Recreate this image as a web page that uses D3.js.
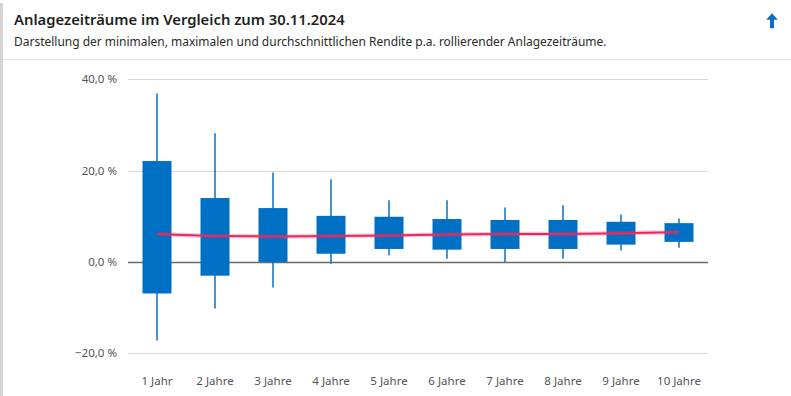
<!DOCTYPE html>
<html><head><meta charset="utf-8">
<script src="https://cdn.jsdelivr.net/npm/d3@7"></script>
<style>
html,body{margin:0;padding:0;background:#fff;}
svg{display:block;font-family:"Noto Sans","Open Sans",sans-serif;}
</style></head>
<body>
<svg id="c" width="791" height="396"></svg>
<script>
const categories = ["1 Jahr","2 Jahre","3 Jahre","4 Jahre","5 Jahre","6 Jahre","7 Jahre","8 Jahre","9 Jahre","10 Jahre"];
const minVals = [-17.2,-10.2,-5.6,-0.4,1.4,0.7,0.0,0.7,2.5,3.1];
const lowVals = [-6.9,-3.0,0.0,1.8,2.85,2.7,2.85,2.85,3.8,4.4];
const highVals = [22.1,14.0,11.8,10.1,9.9,9.4,9.2,9.2,8.8,8.5];
const maxVals = [36.9,28.2,19.6,18.1,13.5,13.5,11.9,12.4,10.4,9.5];
const avgVals = [6.2,5.7,5.6,5.7,5.8,6.0,6.1,6.15,6.3,6.5];
const yTicks = [-20,0,20,40];
const titleText = "Anlagezeiträume im Vergleich zum 30.11.2024";
const subtitleText = "Darstellung der minimalen, maximalen und durchschnittlichen Rendite p.a. rollierender Anlagezeiträume.";

const svg = d3.select("#c");

// card chrome
svg.append("rect").attr("x",0).attr("y",3).attr("width",3).attr("height",393).attr("fill","#d4d4d4");
svg.append("line").attr("x1",3).attr("x2",791).attr("y1",59.5).attr("y2",59.5).attr("stroke","#e2e2e2").attr("stroke-width",1);

function fitText(sel, target){
  const w = sel.node().getComputedTextLength();
  const fs = parseFloat(sel.attr("font-size"));
  sel.attr("font-size", (fs*target/w).toFixed(2));
}
const t = svg.append("text").attr("x",14).attr("y",25).attr("font-size",16).attr("font-weight",600).attr("fill","#1f1f1f").text(titleText);
fitText(t, 331);
const st = svg.append("text").attr("x",14).attr("y",46).attr("font-size",12.5).attr("fill","#2a2a2a").text(subtitleText);
fitText(st, 593);

// arrow icon
const ag = svg.append("g").attr("transform","translate(772,21)").attr("fill","#0a6fc2");
ag.append("path").attr("d","M0,-7.8 L5.8,-1.2 L2,-1.2 L2,7.3 L-2,7.3 L-2,-1.2 L-5.8,-1.2 Z");

// scales
const x = d3.scaleBand().domain(categories).range([128,708]).paddingInner(0.5).paddingOuter(0.25);
const y = d3.scaleLinear().domain([-20,40]).range([353.3,79.3]);

// grid
const grid = svg.append("g");
grid.selectAll("line").data(yTicks).join("line")
  .attr("x1",128).attr("x2",708)
  .attr("y1",d=>Math.round(y(d))+0.5).attr("y2",d=>Math.round(y(d))+0.5)
  .attr("stroke",d=>d===0?"#6b6b6b":"#d9d9d9")
  .attr("stroke-width",d=>d===0?1.5:1);

// y labels
const yAxis = d3.axisLeft(y).tickValues(yTicks).tickSize(0).tickPadding(0)
  .tickFormat(d=>d3.format(".1f")(d).replace(".",",")+" %");
const ya = svg.append("g").attr("transform","translate(117,0)").call(yAxis);
ya.select(".domain").remove();
ya.selectAll("text").attr("font-size",11.5).attr("fill","#555").attr("font-family","'Noto Sans',sans-serif");

// x labels
const xAxis = d3.axisBottom(x).tickSize(0).tickPadding(0);
const xa = svg.append("g").attr("transform","translate(0,376.5)").call(xAxis);
xa.select(".domain").remove();
xa.selectAll("text").attr("font-size",11.5).attr("fill","#555").attr("font-family","'Noto Sans',sans-serif");

// whiskers
const data = categories.map((c,i)=>({c,min:minVals[i],low:lowVals[i],high:highVals[i],max:maxVals[i],avg:avgVals[i]}));
const cx = d=>x(d.c)+x.bandwidth()/2;
svg.append("g").selectAll("line").data(data).join("line")
  .attr("x1",cx).attr("x2",cx)
  .attr("y1",d=>y(d.max)).attr("y2",d=>y(d.min))
  .attr("stroke","#0b70c4").attr("stroke-width",1.5);
svg.append("g").selectAll("rect").data(data).join("rect")
  .attr("x",d=>x(d.c)).attr("width",x.bandwidth())
  .attr("y",d=>y(d.high)).attr("height",d=>y(d.low)-y(d.high))
  .attr("fill","#0070c4");

// average line
const line = d3.line().x(cx).y(d=>y(d.avg)).curve(d3.curveMonotoneX);
svg.append("path").datum(data).attr("d",line).attr("fill","none")
  .attr("stroke","#e8336a").attr("stroke-opacity",0.25).attr("stroke-width",4.5);
svg.append("path").datum(data).attr("d",line).attr("fill","none")
  .attr("stroke","#e8285f").attr("stroke-width",2);
</script>
</body></html>
